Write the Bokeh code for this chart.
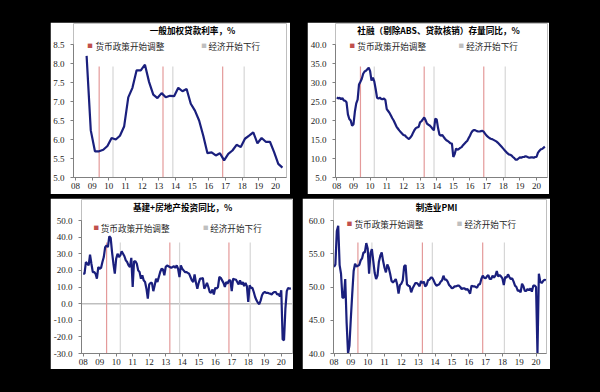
import numpy as np
from bokeh.plotting import figure
from bokeh.layouts import row, column
from bokeh.models import FixedTicker, PrintfTickFormatter, Label, Span
from bokeh.embed import file_html
from bokeh.resources import INLINE

# ---------------- data ----------------
year_ticks = list(range(2008, 2021))
year_labels = ["08", "09", "10", "11", "12", "13", "14", "15", "16", "17", "18", "19", "20"]

policy_dates = [2009.42, 2013.25, 2016.83]     # 货币政策开始调整
downturn_dates = [2010.25, 2013.84, 2018.12]   # 经济开始下行
legend_policy = "货币政策开始调整"
legend_downturn = "经济开始下行"

titles = ["一般加权贷款利率，%", "社融（剔除ABS、贷款核销）存量同比，%",
          "基建+房地产投资同比，%", "制造业PMI"]

# quarterly, 2008Q3 .. 2020Q2
loan_rate = [8.20, 6.24, 5.69, 5.69, 5.73, 5.83, 6.04, 6.00, 6.10, 6.34, 7.11, 7.36,
             7.82, 7.82, 7.97, 7.51, 7.18, 7.09, 7.22, 7.11, 7.15, 7.14, 7.36, 7.27,
             7.33, 6.94, 6.76, 6.50, 6.10, 5.64, 5.66, 5.58, 5.64, 5.45, 5.62, 5.71,
             5.86, 5.80, 6.02, 6.10, 6.19, 5.90, 6.04, 5.94, 5.94, 5.67, 5.36, 5.26]

# monthly, 2008-01 .. 2020-07
tsf_growth = [26.1, 25.8, 26.0, 25.6, 25.9, 25.3, 25.2, 24.8, 21.6, 20.4, 20.0, 18.6,
              19.0, 22.3, 24.5, 25.5, 29.5, 30.2, 31.0, 32.3, 32.9, 33.1, 33.5, 33.9,
              33.0, 30.5, 31.3, 30.3, 28.3, 26.0, 25.8, 26.0, 25.7, 25.6, 25.8, 25.4,
              23.0, 22.5, 22.0, 21.3, 20.6, 20.0, 19.2, 18.4, 17.9, 17.4, 17.0, 16.6,
              16.2, 16.1, 15.7, 15.4, 15.1, 15.5, 16.0, 16.8, 17.5, 18.0, 18.2, 18.3,
              19.5, 19.8, 20.3, 20.8, 20.1, 19.2, 18.9, 18.7, 18.3, 17.8, 17.4, 20.5,
              20.3, 18.0, 16.3, 16.0, 16.2, 15.7, 15.2, 14.8, 14.6, 14.3, 14.0, 13.9,
              10.4, 11.2, 12.6, 12.3, 12.5, 12.8, 13.0, 13.5, 13.9, 14.3, 14.6, 15.3,
              16.0, 16.8, 17.3, 17.5, 17.4, 17.2, 17.1, 17.1, 17.2, 17.3, 17.0, 16.5,
              16.0, 15.7, 15.4, 15.2, 15.1, 14.9, 14.7, 14.5, 14.2, 13.8, 13.4, 13.0,
              12.6, 12.2, 11.8, 11.4, 11.1, 11.0, 10.8, 10.4, 10.1, 9.7, 9.7, 10.0,
              10.3, 10.2, 10.4, 10.4, 10.6, 10.5, 10.3, 10.2, 10.3, 10.3, 10.2, 10.4,
              10.4, 11.5, 12.0, 12.4, 12.5, 12.8, 13.1]

# monthly, 2008-01 .. 2020-08
infra_re = [18, 18, 25, 24, 23, 29.5, 24, 19, 19, 18, 15, 22,
            21, 21.5, 25, 28, 34, 35, 34, 40.5, 39.5, 31, 24, 18,
            27, 30, 28, 29, 31.5, 30, 28.5, 26, 25, 23, 22, 27.5,
            10, 25.5, 25.5, 24, 20, 19, 15, 17, 14, 13, 9, 3,
            11.5, 12.5, 12.5, 7.5, 11, 15, 13, 16, 19, 21, 20.5, 17,
            22, 23, 22.5, 22, 21.5, 22, 22.5, 21.5, 23, 21, 16, 23,
            21, 20, 19, 19, 18.5, 18, 16, 14, 13, 17.5, 12.5, 9,
            12.5, 15, 15, 15.5, 9, 10.5, 12.5, 10, 7, 6.5, 8.5, 5.5,
            9.5, 9, 10, 16, 15.5, 14, 12.5, 10, 13, 12, 14, 14,
            7.5, 15, 14.5, 14.5, 13, 11.5, 14, 11.5, 13, 10.5, 12.5, 10.5,
            1, 11, 9.5, 9.5, 7, 4, 2, 0.5, -0.3, 1.8, 5, 6.5,
            7, 6.5, 6.5, 6.2, 6, 5.5, 6.5, 7, 7, 5.5, 5.8, 4.3,
            8, -21.5, -22, -3, 7.5, 9.5, 9, 9.2]

# monthly, 2008-01 .. 2020-08
pmi = [53.0, 53.4, 58.4, 59.2, 53.3, 52.0, 48.4, 48.4, 51.2, 44.6, 38.8, 41.2,
       45.3, 49.0, 52.4, 53.5, 53.1, 53.2, 53.3, 54.0, 54.3, 55.2, 55.2, 56.6,
       55.8, 52.0, 55.1, 55.7, 53.9, 52.1, 51.2, 51.7, 53.8, 54.7, 55.2, 53.9,
       52.9, 52.2, 53.4, 52.9, 52.0, 50.9, 50.7, 50.9, 51.2, 50.4, 49.0, 50.3,
       50.5, 51.0, 53.1, 53.3, 50.4, 50.2, 50.1, 49.2, 49.8, 50.2, 50.6, 50.6,
       50.4, 50.1, 50.9, 50.6, 50.8, 50.1, 50.3, 51.0, 51.1, 51.4, 51.4, 51.0,
       50.5, 50.2, 50.3, 50.4, 50.8, 51.0, 51.7, 51.1, 51.1, 50.8, 50.3, 50.1,
       49.8, 49.9, 50.1, 50.1, 50.2, 50.2, 50.0, 49.7, 49.8, 49.8, 49.6, 49.7,
       49.4, 49.0, 50.2, 50.1, 50.1, 50.0, 49.9, 50.4, 50.4, 51.2, 51.7, 51.4,
       51.3, 51.6, 51.8, 51.2, 51.2, 51.7, 51.4, 51.7, 52.4, 51.6, 51.8, 51.6,
       51.3, 50.3, 51.5, 51.4, 51.9, 51.5, 51.2, 51.3, 50.8, 50.2, 50.0, 49.4,
       49.5, 49.2, 50.5, 50.1, 49.4, 49.4, 49.7, 49.5, 49.8, 49.3, 50.2, 50.2,
       50.0, 35.7, 52.0, 50.8, 50.6, 50.9, 51.1, 51.0]

x_loan = 2008 + 8 / 12 + 0.25 * np.arange(len(loan_rate))
x_tsf = 2008 + np.arange(len(tsf_growth)) / 12
x_inv = 2008 + np.arange(len(infra_re)) / 12
x_pmi = 2008 + np.arange(len(pmi)) / 12

# ---------------- styling ----------------
LINE_COLOR = "#1a1f7d"
RED = "#c0504d"
RED_LINE = "#e49a9a"
GRAY = "#bfbfbf"
GRAY_LINE = "#d6d6d6"
AXIS_COLOR = "#808080"
CJK = "Noto Sans CJK SC"
SERIF = "Liberation Serif"

W, H = 600, 392

specs = [
    dict(box=(50, 22, 240, 172), frame=(73, 286, 44, 177), xr=(2007.88, 2020.66), yr=(5.0, 8.5),
         yticks=[5.0, 5.5, 6.0, 6.5, 7.0, 7.5, 8.0, 8.5], x=x_loan, y=loan_rate, title=titles[0],
         title_pos=(192, 29.5), leg_y=45, leg_x=(89.5, 95, 203.5, 208), zero=False),
    dict(box=(307, 22, 242, 172), frame=(333, 547, 44, 177), xr=(2007.92, 2020.66), yr=(5.0, 40.0),
         yticks=[5, 10, 15, 20, 25, 30, 35, 40], x=x_tsf, y=tsf_growth, title=titles[1],
         title_pos=(437, 29.5), leg_y=45, leg_x=(350, 355, 460, 465), zero=False),
    dict(box=(50, 198, 243, 171), frame=(78, 292, 220, 353), xr=(2007.9, 2020.68), yr=(-30.0, 50.0),
         yticks=[-30, -20, -10, 0, 10, 20, 30, 40, 50], x=x_inv, y=infra_re, title=titles[2],
         title_pos=(180.5, 206), leg_y=227, leg_x=(93, 97.5, 204, 208.5), zero=True),
    dict(box=(302, 198, 248, 171), frame=(333, 546, 220, 353), xr=(2007.97, 2020.62), yr=(40.0, 60.0),
         yticks=[40, 45, 50, 55, 60], x=x_pmi, y=pmi, title=titles[3],
         title_pos=(436, 206), leg_y=223, leg_x=(349, 354, 459, 464), zero=False),
]


def make_panel(s, margin):
    bx, by, bw, bh = s["box"]
    fx0, fx1, fy0, fy1 = s["frame"]
    xr, yr = s["xr"], s["yr"]

    def dx(px):
        return xr[0] + (px - fx0) / (fx1 - fx0) * (xr[1] - xr[0])

    def dy(py):
        return yr[1] - (py - fy0) / (fy1 - fy0) * (yr[1] - yr[0])

    # the frame is extended up to the top of the white box so the title and legend
    # sit inside it; the y axis itself is bounded to the value range
    top_px = by + 1
    p = figure(width=bw, height=bh, x_range=xr, y_range=(yr[0], dy(top_px)),
               output_backend="svg", toolbar_location=None,
               min_border_left=fx0 - bx, min_border_right=bx + bw - fx1,
               min_border_top=top_px - by, min_border_bottom=by + bh - fy1,
               background_fill_color="white", border_fill_color="white",
               outline_line_color=None, margin=margin)
    p.xgrid.visible = False
    p.ygrid.visible = False

    for ax in (p.xaxis[0], p.yaxis[0]):
        ax.axis_line_color = AXIS_COLOR
        ax.axis_line_width = 1
        ax.major_tick_line_color = AXIS_COLOR
        ax.major_tick_out = 3
        ax.major_tick_in = 0
        ax.minor_tick_line_color = None
        ax.major_label_text_font = SERIF
        ax.major_label_text_font_size = "9px"
        ax.major_label_text_color = "#1a1a1a"
    p.xaxis.ticker = FixedTicker(ticks=year_ticks)
    p.xaxis.major_label_overrides = dict(zip(year_ticks, year_labels))
    p.xaxis.major_label_standoff = 2
    p.yaxis.ticker = FixedTicker(ticks=s["yticks"])
    p.yaxis.formatter = PrintfTickFormatter(format="%.1f")
    p.yaxis.major_label_standoff = 6
    p.yaxis.bounds = yr

    if s["zero"]:
        p.add_layout(Span(location=0, dimension="width", line_color=GRAY,
                          line_width=1.5, level="underlay"))

    ytop = yr[0] + 0.835 * (yr[1] - yr[0])
    n = len(policy_dates)
    p.segment(x0=policy_dates, x1=policy_dates, y0=[yr[0]] * n, y1=[ytop] * n,
              line_color=RED_LINE, line_width=1.2)
    m = len(downturn_dates)
    p.segment(x0=downturn_dates, x1=downturn_dates, y0=[yr[0]] * m, y1=[ytop] * m,
              line_color=GRAY_LINE, line_width=1.2)

    src_x = np.asarray(s["x"])
    src_y = np.asarray(s["y"], dtype=float)
    # clip values below the axis minimum at the axis (as the original chart does)
    p.line(src_x, np.maximum(src_y, yr[0]), line_color=LINE_COLOR, line_width=2.2)

    # title
    tx, ty = s["title_pos"]
    p.add_layout(Label(x=dx(tx), y=dy(ty), text=s["title"], text_align="center",
                       text_baseline="middle", text_font=CJK, text_font_size="8.6px",
                       text_font_style="bold", text_color="#000000"))
    # legend
    lx = s["leg_x"]
    ly = dy(s["leg_y"])
    p.add_layout(Label(x=dx(lx[0]), y=ly, text="■", text_align="center", text_baseline="middle",
                       text_font=CJK, text_font_size="5.5px", text_color=RED))
    p.add_layout(Label(x=dx(lx[1]), y=ly, text=legend_policy, text_align="left",
                       text_baseline="middle", text_font=CJK, text_font_size="8.6px",
                       text_color="#262626"))
    p.add_layout(Label(x=dx(lx[2]), y=ly, text="■", text_align="center", text_baseline="middle",
                       text_font=CJK, text_font_size="5.5px", text_color=GRAY))
    p.add_layout(Label(x=dx(lx[3]), y=ly, text=legend_downturn, text_align="left",
                       text_baseline="middle", text_font=CJK, text_font_size="8.6px",
                       text_color="#262626"))
    return p


b1, b2, b3, b4 = (s["box"] for s in specs)
# margins (top, right, bottom, left) place each white panel where the reference has it
p1 = make_panel(specs[0], (b1[1], 0, 0, b1[0]))
p2 = make_panel(specs[1], (b2[1], W - (b2[0] + b2[2]), 0, b2[0] - (b1[0] + b1[2])))
row2_top = b3[1] - (b1[1] + b1[3])
row2_bottom = H - (b3[1] + b3[3])
p3 = make_panel(specs[2], (row2_top, 0, row2_bottom, b3[0]))
p4 = make_panel(specs[3], (row2_top, W - (b4[0] + b4[2]), row2_bottom, b4[0] - (b3[0] + b3[2])))

layout = column(row(p1, p2), row(p3, p4), styles={"background-color": "black"})

open("out.html", "w").write(file_html(layout, INLINE))
